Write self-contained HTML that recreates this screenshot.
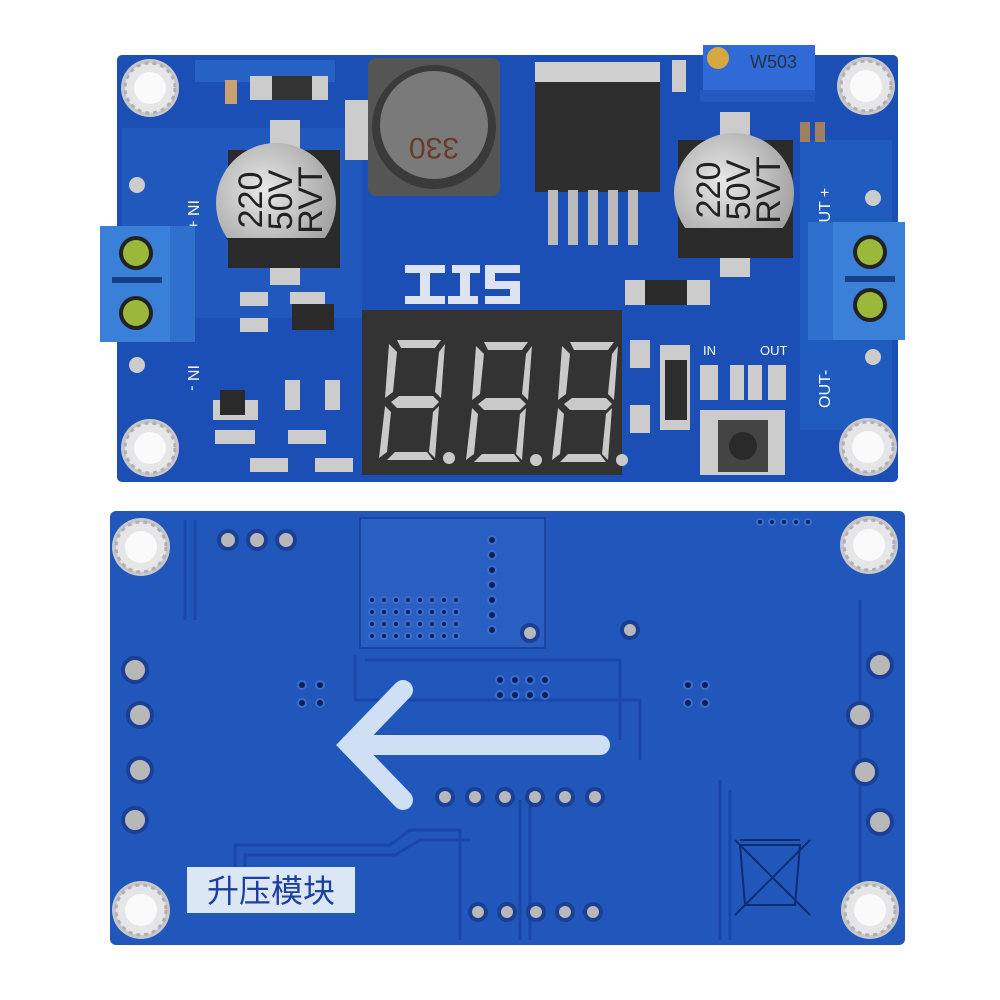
<!DOCTYPE html>
<html><head><meta charset="utf-8"><style>
html,body{margin:0;padding:0;background:#fff;width:1000px;height:1000px;overflow:hidden}
svg{display:block}
text{font-family:"Liberation Sans","Noto Sans CJK SC",sans-serif}
</style></head><body>
<svg width="1000" height="1000" viewBox="0 0 1000 1000" xmlns="http://www.w3.org/2000/svg">
<defs>
<radialGradient id="cap" cx="40%" cy="40%" r="70%"><stop offset="0" stop-color="#e8e8e8"/><stop offset="1" stop-color="#9a9a9a"/></radialGradient>
<g id="hole"><circle r="29" fill="#c8c8cc"/><circle r="25" fill="#e6e6e8" stroke="#b0b0b4" stroke-width="3" stroke-dasharray="4 4"/><circle r="16" fill="#fafafa"/></g>
<g id="seg" fill="#c9c9c9">
<polygon points="12,0 56,0 50,8 16,8"/>
<polygon points="4,4 12,12 8,52 0,58"/>
<polygon points="60,4 54,12 50,52 56,58"/>
<polygon points="6,62 14,56 48,56 54,62 48,68 12,68"/>
<polygon points="0,66 6,72 2,112 -6,118"/>
<polygon points="54,66 48,72 44,112 50,118"/>
<polygon points="2,120 10,112 42,112 48,120"/>
<circle cx="64" cy="118" r="6"/>
</g>
</defs>

<!-- TOP BOARD -->
<rect x="117" y="55" width="781" height="427" rx="5" fill="#1c4fb6"/>
<rect x="122" y="128" width="240" height="190" fill="#2158bd"/>
<rect x="800" y="140" width="92" height="290" fill="#1f5abf"/>
<rect x="195" y="60" width="140" height="22" fill="#2662c4"/>
<use href="#hole" x="150" y="88"/>
<use href="#hole" x="866" y="86"/>
<use href="#hole" x="150" y="448"/>
<use href="#hole" x="868" y="447"/>
<circle cx="137" cy="185" r="8" fill="#ccc"/><circle cx="137" cy="365" r="8" fill="#ccc"/>
<circle cx="873" cy="198" r="8" fill="#ccc"/><circle cx="873" cy="357" r="8" fill="#ccc"/>
<rect x="250" y="76" width="78" height="24" fill="#ccc"/><rect x="272" y="76" width="40" height="24" fill="#333"/>
<rect x="225" y="80" width="12" height="24" fill="#c9a070"/>
<!-- left cap -->
<rect x="270" y="120" width="30" height="30" fill="#ccc"/>
<rect x="270" y="265" width="30" height="20" fill="#ccc"/>
<rect x="228" y="150" width="112" height="118" fill="#2a2a2a"/>
<circle cx="276" cy="203" r="60" fill="url(#cap)"/>
<path d="M226 238 A60 60 0 0 0 326 238 Z" fill="#2a2a2a"/>
<g transform="translate(276 200) rotate(-90)" font-size="34" fill="#222" text-anchor="middle">
<text x="0" y="-14">220</text><text x="0" y="16">50V</text><text x="0" y="46">RVT</text></g>
<!-- inductor -->
<rect x="345" y="100" width="25" height="60" fill="#ccc"/>
<rect x="368" y="58" width="132" height="138" rx="8" fill="#555"/>
<circle cx="434" cy="127" r="62" fill="#3a3a3a"/>
<circle cx="434" cy="125" r="54" fill="#7a7a7a"/>
<text x="434" y="112" font-size="30" fill="#6a3a2a" text-anchor="middle" transform="rotate(180 434 125)">330</text>
<!-- regulator -->
<rect x="535" y="62" width="125" height="20" fill="#d0d0d0"/>
<rect x="535" y="82" width="125" height="110" fill="#2e2e2e"/>
<g fill="#bbb"><rect x="548" y="190" width="10" height="55"/><rect x="568" y="190" width="10" height="55"/><rect x="588" y="190" width="10" height="55"/><rect x="608" y="190" width="10" height="55"/><rect x="628" y="190" width="10" height="55"/></g>
<!-- pot -->
<rect x="703" y="45" width="112" height="55" fill="#2f6ad6"/>
<rect x="700" y="90" width="115" height="12" fill="#2558c0"/>
<circle cx="718" cy="58" r="11" fill="#d8a840"/>
<text x="750" y="68" font-size="18" fill="#234">W503</text>
<rect x="672" y="60" width="14" height="32" fill="#ccc"/>
<!-- right cap -->
<rect x="720" y="112" width="30" height="30" fill="#ccc"/>
<rect x="720" y="255" width="30" height="22" fill="#ccc"/>
<rect x="678" y="140" width="115" height="118" fill="#2a2a2a"/>
<circle cx="734" cy="193" r="60" fill="url(#cap)"/>
<path d="M684 228 A60 60 0 0 0 784 228 Z" fill="#2a2a2a"/>
<g transform="translate(734 190) rotate(-90)" font-size="34" fill="#222" text-anchor="middle">
<text x="0" y="-14">220</text><text x="0" y="16">50V</text><text x="0" y="46">RVT</text></g>
<rect x="800" y="122" width="10" height="20" fill="#a08060"/><rect x="815" y="122" width="10" height="20" fill="#a08060"/>
<!-- labels -->
<text x="0" y="0" font-size="16" fill="#fff" transform="translate(188 200) rotate(90)">IN +</text>
<text x="0" y="0" font-size="16" fill="#fff" transform="translate(188 365) rotate(90)">IN -</text>
<text x="0" y="0" font-size="16" fill="#fff" transform="translate(830 235) rotate(-90)">OUT +</text>
<text x="0" y="0" font-size="16" fill="#fff" transform="translate(830 408) rotate(-90)">OUT-</text>
<text x="703" y="355" font-size="13" fill="#fff">IN</text><text x="760" y="355" font-size="13" fill="#fff">OUT</text>
<!-- terminal blocks -->
<rect x="100" y="226" width="95" height="116" fill="#3a7fd8"/>
<rect x="170" y="226" width="25" height="116" fill="#2f70cc"/>
<rect x="112" y="277" width="50" height="6" fill="#1a3f8a"/>
<circle cx="136" cy="253" r="17" fill="#222"/><circle cx="136" cy="253" r="13" fill="#9ab83a"/>
<circle cx="136" cy="313" r="17" fill="#222"/><circle cx="136" cy="313" r="13" fill="#9ab83a"/>
<rect x="808" y="222" width="97" height="118" fill="#3a7fd8"/>
<rect x="808" y="222" width="25" height="118" fill="#2f70cc"/>
<rect x="845" y="276" width="50" height="6" fill="#1a3f8a"/>
<circle cx="870" cy="252" r="17" fill="#222"/><circle cx="870" cy="252" r="13" fill="#9ab83a"/>
<circle cx="870" cy="305" r="17" fill="#222"/><circle cx="870" cy="305" r="13" fill="#9ab83a"/>
<!-- ITS logo -->
<g fill="#dde3f0"><rect x="405" y="265" width="40" height="8"/><rect x="420" y="265" width="10" height="38"/><rect x="405" y="296" width="40" height="8"/>
<rect x="452" y="265" width="28" height="8"/><rect x="460" y="265" width="10" height="38"/><rect x="448" y="296" width="30" height="8"/>
<rect x="485" y="265" width="35" height="8"/><rect x="485" y="265" width="10" height="22"/><rect x="485" y="281" width="35" height="8"/><rect x="510" y="281" width="10" height="23"/><rect x="485" y="296" width="35" height="8"/></g>
<rect x="625" y="280" width="85" height="25" fill="#ccc"/><rect x="645" y="280" width="42" height="25" fill="#2a2a2a"/>
<g fill="#ccc"><rect x="240" y="292" width="28" height="14"/><rect x="240" y="318" width="28" height="14"/>
<rect x="290" y="292" width="35" height="12"/><rect x="213" y="400" width="45" height="20"/>
<rect x="215" y="430" width="40" height="14"/><rect x="288" y="430" width="38" height="14"/><rect x="250" y="458" width="38" height="14"/><rect x="315" y="458" width="38" height="14"/>
<rect x="285" y="380" width="15" height="30"/><rect x="325" y="380" width="15" height="30"/>
<rect x="630" y="340" width="20" height="28"/><rect x="630" y="405" width="20" height="28"/>
<rect x="660" y="345" width="30" height="85"/><rect x="700" y="410" width="85" height="65"/>
<rect x="700" y="365" width="18" height="35"/><rect x="730" y="365" width="14" height="35"/><rect x="748" y="365" width="14" height="35"/><rect x="768" y="365" width="18" height="35"/></g>
<rect x="292" y="304" width="42" height="26" fill="#2a2a2a"/>
<rect x="220" y="390" width="25" height="25" fill="#2a2a2a"/>
<rect x="665" y="360" width="22" height="60" fill="#2e2e2e"/>
<rect x="718" y="420" width="50" height="52" fill="#444"/><circle cx="743" cy="446" r="14" fill="#2a2a2a"/>
<!-- display -->
<rect x="362" y="310" width="260" height="165" fill="#333"/>
<use href="#seg" x="385" y="340"/>
<use href="#seg" x="472" y="342"/>
<use href="#seg" x="558" y="342"/>

<!-- BOTTOM BOARD -->
<rect x="110" y="511" width="795" height="434" rx="6" fill="#2157bb"/>
<rect x="360" y="518" width="185" height="130" fill="#2a5fc2" stroke="#1a44a0" stroke-width="2"/>
<g fill="none" stroke="#1a46a8" stroke-width="3">
<path d="M185 520 V620 M195 520 V620"/>
<path d="M355 655 V700 H640 V760"/><path d="M365 660 H620 V740"/>
<path d="M235 880 V845 H390 L410 830 H460 V940"/><path d="M245 880 V855 H395 L420 840 H470"/>
<path d="M520 800 V940 M530 800 V940"/><path d="M720 780 V940 M730 790 V940"/>
<path d="M860 600 V900"/></g>
<g fill="#0c1f55" stroke="#3a6fd0" stroke-width="2">
<circle cx="372" cy="600" r="3"/><circle cx="384" cy="600" r="3"/><circle cx="396" cy="600" r="3"/><circle cx="408" cy="600" r="3"/><circle cx="420" cy="600" r="3"/><circle cx="432" cy="600" r="3"/><circle cx="444" cy="600" r="3"/><circle cx="456" cy="600" r="3"/>
<circle cx="372" cy="612" r="3"/><circle cx="384" cy="612" r="3"/><circle cx="396" cy="612" r="3"/><circle cx="408" cy="612" r="3"/><circle cx="420" cy="612" r="3"/><circle cx="432" cy="612" r="3"/><circle cx="444" cy="612" r="3"/><circle cx="456" cy="612" r="3"/>
<circle cx="372" cy="624" r="3"/><circle cx="384" cy="624" r="3"/><circle cx="396" cy="624" r="3"/><circle cx="408" cy="624" r="3"/><circle cx="420" cy="624" r="3"/><circle cx="432" cy="624" r="3"/><circle cx="444" cy="624" r="3"/><circle cx="456" cy="624" r="3"/>
<circle cx="372" cy="636" r="3"/><circle cx="384" cy="636" r="3"/><circle cx="396" cy="636" r="3"/><circle cx="408" cy="636" r="3"/><circle cx="420" cy="636" r="3"/><circle cx="432" cy="636" r="3"/><circle cx="444" cy="636" r="3"/><circle cx="456" cy="636" r="3"/>
<circle cx="492" cy="540" r="4"/><circle cx="492" cy="555" r="4"/><circle cx="492" cy="570" r="4"/><circle cx="492" cy="585" r="4"/><circle cx="492" cy="600" r="4"/><circle cx="492" cy="615" r="4"/><circle cx="492" cy="630" r="4"/>
<circle cx="500" cy="680" r="4"/><circle cx="515" cy="680" r="4"/><circle cx="530" cy="680" r="4"/><circle cx="545" cy="680" r="4"/><circle cx="500" cy="695" r="4"/><circle cx="515" cy="695" r="4"/><circle cx="530" cy="695" r="4"/><circle cx="545" cy="695" r="4"/>
<circle cx="302" cy="685" r="4"/><circle cx="320" cy="685" r="4"/><circle cx="302" cy="703" r="4"/><circle cx="320" cy="703" r="4"/>
<circle cx="688" cy="685" r="4"/><circle cx="705" cy="685" r="4"/><circle cx="688" cy="703" r="4"/><circle cx="705" cy="703" r="4"/>
<circle cx="760" cy="522" r="3"/><circle cx="772" cy="522" r="3"/><circle cx="784" cy="522" r="3"/><circle cx="796" cy="522" r="3"/><circle cx="808" cy="522" r="3"/>
</g>
<use href="#hole" x="141" y="547"/>
<use href="#hole" x="869" y="545"/>
<use href="#hole" x="141" y="910"/>
<use href="#hole" x="870" y="910"/>
<g fill="#b8b8b8" stroke="#1a3f95" stroke-width="4">
<circle cx="228" cy="540" r="9"/><circle cx="257" cy="540" r="9"/><circle cx="286" cy="540" r="9"/>
<circle cx="135" cy="670" r="12"/><circle cx="140" cy="715" r="12"/><circle cx="140" cy="770" r="12"/><circle cx="135" cy="820" r="12"/>
<circle cx="880" cy="665" r="12"/><circle cx="860" cy="715" r="12"/><circle cx="865" cy="772" r="12"/><circle cx="880" cy="822" r="12"/>
<circle cx="445" cy="797" r="8"/><circle cx="475" cy="797" r="8"/><circle cx="505" cy="797" r="8"/><circle cx="535" cy="797" r="8"/><circle cx="565" cy="797" r="8"/><circle cx="595" cy="797" r="8"/>
<circle cx="478" cy="912" r="8"/><circle cx="507" cy="912" r="8"/><circle cx="536" cy="912" r="8"/><circle cx="565" cy="912" r="8"/><circle cx="593" cy="912" r="8"/>
<circle cx="530" cy="633" r="8"/><circle cx="630" cy="630" r="8"/>
</g>
<g stroke="#cfe0f4" stroke-width="20" stroke-linecap="round" fill="none">
<path d="M350 745 H600"/><path d="M403 690 L350 745 L403 800"/></g>
<g stroke="#0e2c70" stroke-width="2" fill="none">
<path d="M740 845 H800 L795 905 H745 Z"/><path d="M735 840 L810 915 M810 840 L735 915"/><path d="M740 840 H800"/></g>
<rect x="187" y="867" width="168" height="46" fill="#dce7f5"/>
<text x="271" y="902" font-size="32" fill="#1c3fa0" text-anchor="middle" font-family="'Noto Serif CJK SC','Noto Sans CJK SC',sans-serif">升压模块</text>
</svg>
</body></html>
